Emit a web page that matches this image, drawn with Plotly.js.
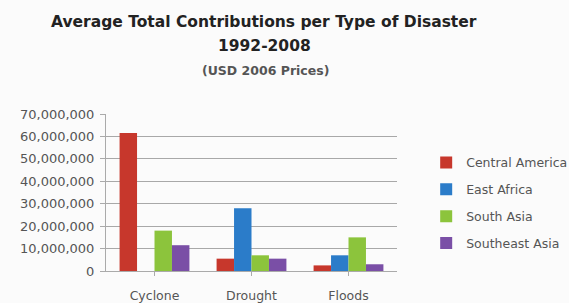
<!DOCTYPE html>
<html>
<head>
<meta charset="utf-8">
<script src="https://cdn.plot.ly/plotly-3.0.1.min.js"></script>
<style>html,body{margin:0;padding:0;background:#fbfbfb;}#chart{width:569px;height:303px;}</style>
</head>
<body>
<div id="chart"></div>
<script>
const categories = ["Cyclone", "Drought", "Floods"];
const seriesNames = ["Central America", "East Africa", "South Asia", "Southeast Asia"];
const centralAmerica = [61500000, 5500000, 2500000];
const eastAfrica = [0, 28000000, 7000000];
const southAsia = [18000000, 7000000, 15000000];
const southeastAsia = [11500000, 5500000, 3000000];
const yTickVals = [0, 10000000, 20000000, 30000000, 40000000, 50000000, 60000000, 70000000];
const yTickText = ["0", "10,000,000", "20,000,000", "30,000,000", "40,000,000", "50,000,000", "60,000,000", "70,000,000"];

const colors = ["#c7372c", "#2b7cc9", "#8cc43c", "#7a4fa6"];
const seriesValues = [centralAmerica, eastAfrica, southAsia, southeastAsia];

const traces = seriesNames.map((name, i) => ({
  type: "bar",
  name: name,
  x: categories,
  y: seriesValues[i],
  legendgroup: "g" + i,
  marker: {color: colors[i], line: {width: 0}}
}));

const font = "'DejaVu Sans', sans-serif";
// plot area in pixels: x 106..397, y 114..271
const L = 106, R = 172, T = 114, B = 32;
const pw = 569 - L - R, ph = 303 - T - B;
const px = x => (x - L) / pw;
const py = y => (303 - B - y) / ph;

const layout = {
  width: 569, height: 303,
  paper_bgcolor: "#fbfbfb",
  plot_bgcolor: "#fbfbfb",
  margin: {l: L, r: R, t: T, b: B},
  barmode: "group",
  bargap: 0.28,
  bargroupgap: 0,
  font: {family: font, size: 12.5, color: "#555"},
  showlegend: true,
  legend: {
    xref: "container", yref: "container",
    x: 0.749, y: 0.512, xanchor: "left", yanchor: "top",
    font: {family: font, size: 12.5, color: "#555"},
    tracegroupgap: 7.6,
    itemwidth: 30,
    bgcolor: "rgba(0,0,0,0)"
  },
  xaxis: {
    showgrid: false,
    showline: true, linecolor: "#aaa", linewidth: 1,
    ticks: "outside", ticklen: 4, tickcolor: "#aaa",
    tickfont: {family: font, size: 12.5, color: "#555"},
    ticklabelstandoff: 9
  },
  yaxis: {
    range: [0, 70000000],
    tickvals: yTickVals, ticktext: yTickText,
    showgrid: true, gridcolor: "#a8a8a8", gridwidth: 1,
    showline: true, linecolor: "#aaa",
    ticks: "outside", ticklen: 5, tickcolor: "#aaa",
    tickfont: {family: font, size: 13, color: "#555"},
    ticklabelstandoff: 3,
    zeroline: false,
    fixedrange: true
  },
  annotations: [
    {text: "<b>Average Total Contributions per Type of Disaster</b>", xref: "paper", yref: "paper",
     x: px(264), y: py(22), xanchor: "center", yanchor: "middle", showarrow: false,
     font: {family: font, size: 15.5, color: "#222"}},
    {text: "<b>1992-2008</b>", xref: "paper", yref: "paper",
     x: px(264), y: py(46), xanchor: "center", yanchor: "middle", showarrow: false,
     font: {family: font, size: 15.5, color: "#222"}},
    {text: "<b>(USD 2006 Prices)</b>", xref: "paper", yref: "paper",
     x: px(265), y: py(70), xanchor: "center", yanchor: "middle", showarrow: false,
     font: {family: font, size: 12.5, color: "#555"}}
  ]
};

Plotly.newPlot("chart", traces, layout, {displayModeBar: false, staticPlot: true});
</script>
</body>
</html>
